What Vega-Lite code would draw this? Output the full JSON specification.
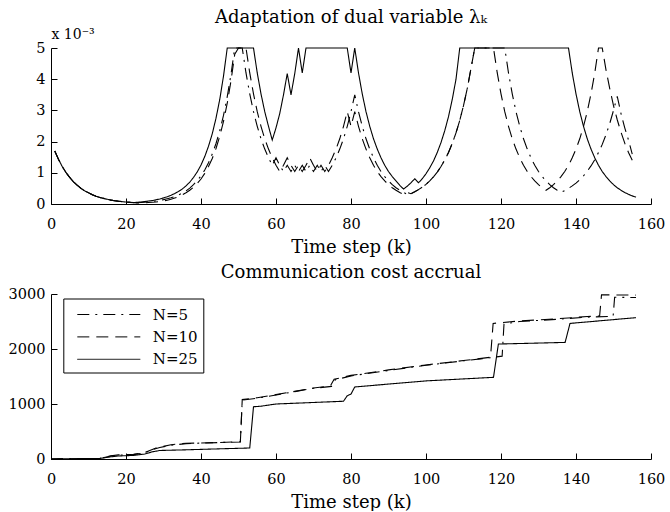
{
"$schema": "https://vega.github.io/schema/vega-lite/v6.json",
"autosize": {"type": "pad"},
"padding": {"left": 8, "top": 8, "right": 5, "bottom": 0},
"config": {
  "view": {"stroke": null},
  "font": "DejaVu Serif",
  "axis": {"grid": false, "domainColor": "black", "domainWidth": 1, "tickColor": "black", "tickWidth": 1, "tickSize": -6, "labelFont": "DejaVu Serif", "labelFontSize": 14.5, "labelColor": "black", "labelFlush": false, "labelOverlap": false, "titleFont": "DejaVu Serif", "titleFontSize": 18, "titleFontWeight": "normal", "titleColor": "black"},
  "title": {"font": "DejaVu Serif", "fontSize": 18, "fontWeight": "normal", "color": "black", "anchor": "middle", "frame": "group", "baseline": "alphabetic"},
  "legend": {"labelFont": "DejaVu Serif"}
},
"datasets": {
"lam": [
{"k":1,"v":1.70,"s":"N=25"},{"k":2,"v":1.43,"s":"N=25"},{"k":3,"v":1.20,"s":"N=25"},{"k":4,"v":1.01,"s":"N=25"},{"k":5,"v":0.85,"s":"N=25"},{"k":6,"v":0.71,"s":"N=25"},{"k":7,"v":0.60,"s":"N=25"},{"k":8,"v":0.50,"s":"N=25"},{"k":9,"v":0.42,"s":"N=25"},{"k":10,"v":0.36,"s":"N=25"},{"k":11,"v":0.30,"s":"N=25"},{"k":12,"v":0.25,"s":"N=25"},{"k":13,"v":0.21,"s":"N=25"},{"k":14,"v":0.18,"s":"N=25"},{"k":15,"v":0.15,"s":"N=25"},{"k":16,"v":0.125,"s":"N=25"},{"k":17,"v":0.105,"s":"N=25"},{"k":18,"v":0.09,"s":"N=25"},{"k":19,"v":0.075,"s":"N=25"},{"k":20,"v":0.063,"s":"N=25"},{"k":21,"v":0.053,"s":"N=25"},{"k":22,"v":0.045,"s":"N=25"},{"k":23,"v":0.054,"s":"N=25"},{"k":24,"v":0.065,"s":"N=25"},{"k":25,"v":0.078,"s":"N=25"},{"k":26,"v":0.094,"s":"N=25"},{"k":27,"v":0.11,"s":"N=25"},{"k":28,"v":0.135,"s":"N=25"},{"k":29,"v":0.16,"s":"N=25"},{"k":30,"v":0.195,"s":"N=25"},{"k":31,"v":0.23,"s":"N=25"},{"k":32,"v":0.28,"s":"N=25"},{"k":33,"v":0.335,"s":"N=25"},{"k":34,"v":0.40,"s":"N=25"},{"k":35,"v":0.48,"s":"N=25"},{"k":36,"v":0.58,"s":"N=25"},{"k":37,"v":0.70,"s":"N=25"},{"k":38,"v":0.85,"s":"N=25"},{"k":39,"v":1.03,"s":"N=25"},{"k":40,"v":1.25,"s":"N=25"},{"k":41,"v":1.52,"s":"N=25"},{"k":42,"v":1.85,"s":"N=25"},{"k":43,"v":2.25,"s":"N=25"},{"k":44,"v":2.75,"s":"N=25"},{"k":45,"v":3.35,"s":"N=25"},{"k":46,"v":4.1,"s":"N=25"},{"k":47,"v":5.0,"s":"N=25"},{"k":54,"v":5.0,"s":"N=25"},{"k":55,"v":4.2,"s":"N=25"},{"k":56,"v":3.53,"s":"N=25"},{"k":57,"v":2.96,"s":"N=25"},{"k":58,"v":2.49,"s":"N=25"},{"k":59,"v":2.05,"s":"N=25"},{"k":60,"v":2.44,"s":"N=25"},{"k":61,"v":2.9,"s":"N=25"},{"k":62,"v":3.5,"s":"N=25"},{"k":63,"v":4.18,"s":"N=25"},{"k":64,"v":3.5,"s":"N=25"},{"k":65,"v":4.18,"s":"N=25"},{"k":66,"v":5.0,"s":"N=25"},{"k":67,"v":4.2,"s":"N=25"},{"k":68,"v":5.0,"s":"N=25"},{"k":79,"v":5.0,"s":"N=25"},{"k":80,"v":4.2,"s":"N=25"},{"k":81,"v":5.0,"s":"N=25"},{"k":82,"v":4.2,"s":"N=25"},{"k":83,"v":3.53,"s":"N=25"},{"k":84,"v":2.96,"s":"N=25"},{"k":85,"v":2.49,"s":"N=25"},{"k":86,"v":2.09,"s":"N=25"},{"k":87,"v":1.76,"s":"N=25"},{"k":88,"v":1.48,"s":"N=25"},{"k":89,"v":1.24,"s":"N=25"},{"k":90,"v":1.04,"s":"N=25"},{"k":91,"v":0.88,"s":"N=25"},{"k":92,"v":0.74,"s":"N=25"},{"k":93,"v":0.6,"s":"N=25"},{"k":94,"v":0.48,"s":"N=25"},{"k":95,"v":0.57,"s":"N=25"},{"k":96,"v":0.68,"s":"N=25"},{"k":97,"v":0.81,"s":"N=25"},{"k":98,"v":0.68,"s":"N=25"},{"k":99,"v":0.81,"s":"N=25"},{"k":100,"v":0.97,"s":"N=25"},{"k":101,"v":1.16,"s":"N=25"},{"k":102,"v":1.38,"s":"N=25"},{"k":103,"v":1.65,"s":"N=25"},{"k":104,"v":1.97,"s":"N=25"},{"k":105,"v":2.35,"s":"N=25"},{"k":106,"v":2.8,"s":"N=25"},{"k":107,"v":3.35,"s":"N=25"},{"k":108,"v":4.0,"s":"N=25"},{"k":109,"v":5.0,"s":"N=25"},{"k":138,"v":5.0,"s":"N=25"},{"k":139,"v":4.2,"s":"N=25"},{"k":140,"v":3.53,"s":"N=25"},{"k":141,"v":2.96,"s":"N=25"},{"k":142,"v":2.49,"s":"N=25"},{"k":143,"v":2.09,"s":"N=25"},{"k":144,"v":1.76,"s":"N=25"},{"k":145,"v":1.48,"s":"N=25"},{"k":146,"v":1.24,"s":"N=25"},{"k":147,"v":1.04,"s":"N=25"},{"k":148,"v":0.88,"s":"N=25"},{"k":149,"v":0.74,"s":"N=25"},{"k":150,"v":0.62,"s":"N=25"},{"k":151,"v":0.52,"s":"N=25"},{"k":152,"v":0.44,"s":"N=25"},{"k":153,"v":0.37,"s":"N=25"},{"k":154,"v":0.31,"s":"N=25"},{"k":155,"v":0.26,"s":"N=25"},{"k":156,"v":0.22,"s":"N=25"},
{"k":1,"v":1.70,"s":"N=10"},{"k":2,"v":1.43,"s":"N=10"},{"k":3,"v":1.20,"s":"N=10"},{"k":4,"v":1.01,"s":"N=10"},{"k":5,"v":0.85,"s":"N=10"},{"k":6,"v":0.71,"s":"N=10"},{"k":7,"v":0.60,"s":"N=10"},{"k":8,"v":0.50,"s":"N=10"},{"k":9,"v":0.42,"s":"N=10"},{"k":10,"v":0.36,"s":"N=10"},{"k":11,"v":0.30,"s":"N=10"},{"k":12,"v":0.25,"s":"N=10"},{"k":13,"v":0.21,"s":"N=10"},{"k":14,"v":0.18,"s":"N=10"},{"k":15,"v":0.15,"s":"N=10"},{"k":16,"v":0.125,"s":"N=10"},{"k":17,"v":0.105,"s":"N=10"},{"k":18,"v":0.088,"s":"N=10"},{"k":19,"v":0.074,"s":"N=10"},{"k":20,"v":0.062,"s":"N=10"},{"k":21,"v":0.052,"s":"N=10"},{"k":22,"v":0.044,"s":"N=10"},{"k":23,"v":0.037,"s":"N=10"},{"k":24,"v":0.032,"s":"N=10"},{"k":25,"v":0.038,"s":"N=10"},{"k":26,"v":0.046,"s":"N=10"},{"k":27,"v":0.055,"s":"N=10"},{"k":28,"v":0.066,"s":"N=10"},{"k":29,"v":0.08,"s":"N=10"},{"k":30,"v":0.1,"s":"N=10"},{"k":31,"v":0.12,"s":"N=10"},{"k":32,"v":0.15,"s":"N=10"},{"k":33,"v":0.19,"s":"N=10"},{"k":34,"v":0.23,"s":"N=10"},{"k":35,"v":0.29,"s":"N=10"},{"k":36,"v":0.36,"s":"N=10"},{"k":37,"v":0.44,"s":"N=10"},{"k":38,"v":0.54,"s":"N=10"},{"k":39,"v":0.66,"s":"N=10"},{"k":40,"v":0.8,"s":"N=10"},{"k":41,"v":0.98,"s":"N=10"},{"k":42,"v":1.2,"s":"N=10"},{"k":43,"v":1.46,"s":"N=10"},{"k":44,"v":1.78,"s":"N=10"},{"k":45,"v":2.17,"s":"N=10"},{"k":46,"v":2.65,"s":"N=10"},{"k":47,"v":3.23,"s":"N=10"},{"k":48,"v":3.95,"s":"N=10"},{"k":49,"v":4.8,"s":"N=10"},{"k":50,"v":5.0,"s":"N=10"},{"k":52,"v":5.0,"s":"N=10"},{"k":53,"v":4.2,"s":"N=10"},{"k":54,"v":3.53,"s":"N=10"},{"k":55,"v":2.96,"s":"N=10"},{"k":56,"v":2.49,"s":"N=10"},{"k":57,"v":2.09,"s":"N=10"},{"k":58,"v":1.76,"s":"N=10"},{"k":59,"v":1.48,"s":"N=10"},{"k":60,"v":1.24,"s":"N=10"},{"k":61,"v":1.04,"s":"N=10"},{"k":62,"v":1.24,"s":"N=10"},{"k":63,"v":1.48,"s":"N=10"},{"k":64,"v":1.24,"s":"N=10"},{"k":65,"v":1.04,"s":"N=10"},{"k":66,"v":1.24,"s":"N=10"},{"k":67,"v":1.04,"s":"N=10"},{"k":68,"v":1.24,"s":"N=10"},{"k":69,"v":1.48,"s":"N=10"},{"k":70,"v":1.24,"s":"N=10"},{"k":71,"v":1.04,"s":"N=10"},{"k":72,"v":1.24,"s":"N=10"},{"k":73,"v":1.04,"s":"N=10"},{"k":74,"v":1.24,"s":"N=10"},{"k":75,"v":1.48,"s":"N=10"},{"k":76,"v":1.76,"s":"N=10"},{"k":77,"v":2.09,"s":"N=10"},{"k":78,"v":2.49,"s":"N=10"},{"k":79,"v":2.96,"s":"N=10"},{"k":80,"v":2.49,"s":"N=10"},{"k":81,"v":2.96,"s":"N=10"},{"k":82,"v":2.49,"s":"N=10"},{"k":83,"v":2.09,"s":"N=10"},{"k":84,"v":1.76,"s":"N=10"},{"k":85,"v":1.48,"s":"N=10"},{"k":86,"v":1.24,"s":"N=10"},{"k":87,"v":1.04,"s":"N=10"},{"k":88,"v":0.88,"s":"N=10"},{"k":89,"v":0.74,"s":"N=10"},{"k":90,"v":0.62,"s":"N=10"},{"k":91,"v":0.52,"s":"N=10"},{"k":92,"v":0.44,"s":"N=10"},{"k":93,"v":0.37,"s":"N=10"},{"k":94,"v":0.31,"s":"N=10"},{"k":95,"v":0.37,"s":"N=10"},{"k":96,"v":0.33,"s":"N=10"},{"k":97,"v":0.39,"s":"N=10"},{"k":98,"v":0.46,"s":"N=10"},{"k":99,"v":0.54,"s":"N=10"},{"k":100,"v":0.63,"s":"N=10"},{"k":101,"v":0.74,"s":"N=10"},{"k":102,"v":0.87,"s":"N=10"},{"k":103,"v":1.02,"s":"N=10"},{"k":104,"v":1.2,"s":"N=10"},{"k":105,"v":1.41,"s":"N=10"},{"k":106,"v":1.65,"s":"N=10"},{"k":107,"v":1.94,"s":"N=10"},{"k":108,"v":2.28,"s":"N=10"},{"k":109,"v":2.68,"s":"N=10"},{"k":110,"v":3.15,"s":"N=10"},{"k":111,"v":3.7,"s":"N=10"},{"k":112,"v":4.35,"s":"N=10"},{"k":113,"v":5.0,"s":"N=10"},{"k":118,"v":5.0,"s":"N=10"},{"k":119,"v":4.2,"s":"N=10"},{"k":120,"v":3.53,"s":"N=10"},{"k":121,"v":2.96,"s":"N=10"},{"k":122,"v":2.49,"s":"N=10"},{"k":123,"v":2.09,"s":"N=10"},{"k":124,"v":1.76,"s":"N=10"},{"k":125,"v":1.48,"s":"N=10"},{"k":126,"v":1.24,"s":"N=10"},{"k":127,"v":1.04,"s":"N=10"},{"k":128,"v":0.88,"s":"N=10"},{"k":129,"v":0.74,"s":"N=10"},{"k":130,"v":0.62,"s":"N=10"},{"k":131,"v":0.52,"s":"N=10"},{"k":132,"v":0.44,"s":"N=10"},{"k":133,"v":0.52,"s":"N=10"},{"k":134,"v":0.62,"s":"N=10"},{"k":135,"v":0.74,"s":"N=10"},{"k":136,"v":0.88,"s":"N=10"},{"k":137,"v":1.04,"s":"N=10"},{"k":138,"v":1.24,"s":"N=10"},{"k":139,"v":1.48,"s":"N=10"},{"k":140,"v":1.76,"s":"N=10"},{"k":141,"v":2.09,"s":"N=10"},{"k":142,"v":2.49,"s":"N=10"},{"k":143,"v":2.96,"s":"N=10"},{"k":144,"v":3.53,"s":"N=10"},{"k":145,"v":4.2,"s":"N=10"},{"k":146,"v":5.0,"s":"N=10"},{"k":147,"v":5.0,"s":"N=10"},{"k":148,"v":4.3,"s":"N=10"},{"k":149,"v":3.7,"s":"N=10"},{"k":150,"v":3.15,"s":"N=10"},{"k":151,"v":2.7,"s":"N=10"},{"k":152,"v":2.3,"s":"N=10"},{"k":153,"v":1.95,"s":"N=10"},{"k":154,"v":1.65,"s":"N=10"},{"k":155,"v":1.4,"s":"N=10"},
{"k":1,"v":1.70,"s":"N=5"},{"k":2,"v":1.43,"s":"N=5"},{"k":3,"v":1.20,"s":"N=5"},{"k":4,"v":1.01,"s":"N=5"},{"k":5,"v":0.85,"s":"N=5"},{"k":6,"v":0.71,"s":"N=5"},{"k":7,"v":0.60,"s":"N=5"},{"k":8,"v":0.50,"s":"N=5"},{"k":9,"v":0.42,"s":"N=5"},{"k":10,"v":0.36,"s":"N=5"},{"k":11,"v":0.30,"s":"N=5"},{"k":12,"v":0.25,"s":"N=5"},{"k":13,"v":0.21,"s":"N=5"},{"k":14,"v":0.18,"s":"N=5"},{"k":15,"v":0.15,"s":"N=5"},{"k":16,"v":0.125,"s":"N=5"},{"k":17,"v":0.105,"s":"N=5"},{"k":18,"v":0.09,"s":"N=5"},{"k":19,"v":0.075,"s":"N=5"},{"k":20,"v":0.063,"s":"N=5"},{"k":21,"v":0.053,"s":"N=5"},{"k":22,"v":0.045,"s":"N=5"},{"k":23,"v":0.04,"s":"N=5"},{"k":24,"v":0.047,"s":"N=5"},{"k":25,"v":0.056,"s":"N=5"},{"k":26,"v":0.067,"s":"N=5"},{"k":27,"v":0.08,"s":"N=5"},{"k":28,"v":0.095,"s":"N=5"},{"k":29,"v":0.115,"s":"N=5"},{"k":30,"v":0.14,"s":"N=5"},{"k":31,"v":0.17,"s":"N=5"},{"k":32,"v":0.2,"s":"N=5"},{"k":33,"v":0.24,"s":"N=5"},{"k":34,"v":0.29,"s":"N=5"},{"k":35,"v":0.35,"s":"N=5"},{"k":36,"v":0.42,"s":"N=5"},{"k":37,"v":0.51,"s":"N=5"},{"k":38,"v":0.62,"s":"N=5"},{"k":39,"v":0.75,"s":"N=5"},{"k":40,"v":0.9,"s":"N=5"},{"k":41,"v":1.09,"s":"N=5"},{"k":42,"v":1.32,"s":"N=5"},{"k":43,"v":1.6,"s":"N=5"},{"k":44,"v":1.94,"s":"N=5"},{"k":45,"v":2.35,"s":"N=5"},{"k":46,"v":2.84,"s":"N=5"},{"k":47,"v":3.44,"s":"N=5"},{"k":48,"v":4.16,"s":"N=5"},{"k":49,"v":5.0,"s":"N=5"},{"k":51,"v":5.0,"s":"N=5"},{"k":52,"v":4.2,"s":"N=5"},{"k":53,"v":3.53,"s":"N=5"},{"k":54,"v":2.96,"s":"N=5"},{"k":55,"v":2.49,"s":"N=5"},{"k":56,"v":2.09,"s":"N=5"},{"k":57,"v":1.76,"s":"N=5"},{"k":58,"v":1.48,"s":"N=5"},{"k":59,"v":1.24,"s":"N=5"},{"k":60,"v":1.48,"s":"N=5"},{"k":61,"v":1.24,"s":"N=5"},{"k":62,"v":1.04,"s":"N=5"},{"k":63,"v":1.24,"s":"N=5"},{"k":64,"v":1.04,"s":"N=5"},{"k":65,"v":1.24,"s":"N=5"},{"k":66,"v":1.04,"s":"N=5"},{"k":67,"v":1.24,"s":"N=5"},{"k":68,"v":1.04,"s":"N=5"},{"k":69,"v":1.24,"s":"N=5"},{"k":70,"v":1.04,"s":"N=5"},{"k":71,"v":1.24,"s":"N=5"},{"k":72,"v":1.04,"s":"N=5"},{"k":73,"v":1.24,"s":"N=5"},{"k":74,"v":1.04,"s":"N=5"},{"k":75,"v":1.24,"s":"N=5"},{"k":76,"v":1.48,"s":"N=5"},{"k":77,"v":1.76,"s":"N=5"},{"k":78,"v":2.09,"s":"N=5"},{"k":79,"v":2.49,"s":"N=5"},{"k":80,"v":2.96,"s":"N=5"},{"k":81,"v":3.5,"s":"N=5"},{"k":82,"v":2.96,"s":"N=5"},{"k":83,"v":2.49,"s":"N=5"},{"k":84,"v":2.09,"s":"N=5"},{"k":85,"v":1.76,"s":"N=5"},{"k":86,"v":1.48,"s":"N=5"},{"k":87,"v":1.24,"s":"N=5"},{"k":88,"v":1.04,"s":"N=5"},{"k":89,"v":0.88,"s":"N=5"},{"k":90,"v":0.74,"s":"N=5"},{"k":91,"v":0.62,"s":"N=5"},{"k":92,"v":0.52,"s":"N=5"},{"k":93,"v":0.44,"s":"N=5"},{"k":94,"v":0.37,"s":"N=5"},{"k":95,"v":0.31,"s":"N=5"},{"k":96,"v":0.33,"s":"N=5"},{"k":97,"v":0.39,"s":"N=5"},{"k":98,"v":0.46,"s":"N=5"},{"k":99,"v":0.54,"s":"N=5"},{"k":100,"v":0.63,"s":"N=5"},{"k":101,"v":0.74,"s":"N=5"},{"k":102,"v":0.87,"s":"N=5"},{"k":103,"v":1.02,"s":"N=5"},{"k":104,"v":1.2,"s":"N=5"},{"k":105,"v":1.41,"s":"N=5"},{"k":106,"v":1.65,"s":"N=5"},{"k":107,"v":1.94,"s":"N=5"},{"k":108,"v":2.28,"s":"N=5"},{"k":109,"v":2.68,"s":"N=5"},{"k":110,"v":3.15,"s":"N=5"},{"k":111,"v":3.7,"s":"N=5"},{"k":112,"v":4.35,"s":"N=5"},{"k":113,"v":5.0,"s":"N=5"},{"k":121,"v":5.0,"s":"N=5"},{"k":122,"v":4.2,"s":"N=5"},{"k":123,"v":3.53,"s":"N=5"},{"k":124,"v":2.96,"s":"N=5"},{"k":125,"v":2.49,"s":"N=5"},{"k":126,"v":2.09,"s":"N=5"},{"k":127,"v":1.76,"s":"N=5"},{"k":128,"v":1.48,"s":"N=5"},{"k":129,"v":1.24,"s":"N=5"},{"k":130,"v":1.04,"s":"N=5"},{"k":131,"v":0.88,"s":"N=5"},{"k":132,"v":0.74,"s":"N=5"},{"k":133,"v":0.62,"s":"N=5"},{"k":134,"v":0.52,"s":"N=5"},{"k":135,"v":0.44,"s":"N=5"},{"k":136,"v":0.37,"s":"N=5"},{"k":137,"v":0.43,"s":"N=5"},{"k":138,"v":0.5,"s":"N=5"},{"k":139,"v":0.58,"s":"N=5"},{"k":140,"v":0.67,"s":"N=5"},{"k":141,"v":0.78,"s":"N=5"},{"k":142,"v":0.9,"s":"N=5"},{"k":143,"v":1.05,"s":"N=5"},{"k":144,"v":1.22,"s":"N=5"},{"k":145,"v":1.42,"s":"N=5"},{"k":146,"v":1.65,"s":"N=5"},{"k":147,"v":1.91,"s":"N=5"},{"k":148,"v":2.22,"s":"N=5"},{"k":149,"v":2.58,"s":"N=5"},{"k":150,"v":3.0,"s":"N=5"},{"k":151,"v":3.45,"s":"N=5"},{"k":152,"v":2.9,"s":"N=5"},{"k":153,"v":2.44,"s":"N=5"},{"k":154,"v":2.05,"s":"N=5"},{"k":155,"v":1.6,"s":"N=5"}
],
"cost": [
{"k":0,"v":0,"s":"N=25"},{"k":13,"v":10,"s":"N=25"},{"k":16,"v":40,"s":"N=25"},{"k":18,"v":55,"s":"N=25"},{"k":22,"v":65,"s":"N=25"},{"k":25,"v":90,"s":"N=25"},{"k":27,"v":130,"s":"N=25"},{"k":29,"v":155,"s":"N=25"},{"k":35,"v":165,"s":"N=25"},{"k":45,"v":185,"s":"N=25"},{"k":53,"v":200,"s":"N=25"},{"k":54,"v":950,"s":"N=25"},{"k":56,"v":960,"s":"N=25"},{"k":60,"v":1000,"s":"N=25"},{"k":78,"v":1050,"s":"N=25"},{"k":79,"v":1150,"s":"N=25"},{"k":80,"v":1180,"s":"N=25"},{"k":81,"v":1310,"s":"N=25"},{"k":100,"v":1420,"s":"N=25"},{"k":118,"v":1485,"s":"N=25"},{"k":119.3,"v":2090,"s":"N=25"},{"k":137.1,"v":2120,"s":"N=25"},{"k":138.4,"v":2465,"s":"N=25"},{"k":156,"v":2570,"s":"N=25"},
{"k":0,"v":0,"s":"N=10"},{"k":13,"v":10,"s":"N=10"},{"k":16,"v":60,"s":"N=10"},{"k":18,"v":75,"s":"N=10"},{"k":22,"v":85,"s":"N=10"},{"k":25,"v":120,"s":"N=10"},{"k":28,"v":200,"s":"N=10"},{"k":32,"v":260,"s":"N=10"},{"k":36,"v":285,"s":"N=10"},{"k":45,"v":300,"s":"N=10"},{"k":50.5,"v":315,"s":"N=10"},{"k":51,"v":1080,"s":"N=10"},{"k":55,"v":1115,"s":"N=10"},{"k":60,"v":1170,"s":"N=10"},{"k":65,"v":1230,"s":"N=10"},{"k":70,"v":1290,"s":"N=10"},{"k":74.5,"v":1330,"s":"N=10"},{"k":75.5,"v":1450,"s":"N=10"},{"k":80,"v":1520,"s":"N=10"},{"k":90,"v":1620,"s":"N=10"},{"k":100,"v":1710,"s":"N=10"},{"k":110,"v":1790,"s":"N=10"},{"k":117.2,"v":1850,"s":"N=10"},{"k":117.9,"v":2465,"s":"N=10"},{"k":125,"v":2510,"s":"N=10"},{"k":135,"v":2550,"s":"N=10"},{"k":143,"v":2590,"s":"N=10"},{"k":146.3,"v":2600,"s":"N=10"},{"k":146.8,"v":2985,"s":"N=10"},{"k":156,"v":2980,"s":"N=10"},
{"k":0,"v":0,"s":"N=5"},{"k":13,"v":10,"s":"N=5"},{"k":16,"v":55,"s":"N=5"},{"k":18,"v":70,"s":"N=5"},{"k":22,"v":80,"s":"N=5"},{"k":25,"v":110,"s":"N=5"},{"k":27,"v":170,"s":"N=5"},{"k":29,"v":210,"s":"N=5"},{"k":32,"v":250,"s":"N=5"},{"k":36,"v":280,"s":"N=5"},{"k":45,"v":300,"s":"N=5"},{"k":50.5,"v":310,"s":"N=5"},{"k":51,"v":1070,"s":"N=5"},{"k":55,"v":1105,"s":"N=5"},{"k":60,"v":1165,"s":"N=5"},{"k":65,"v":1225,"s":"N=5"},{"k":70,"v":1285,"s":"N=5"},{"k":74.8,"v":1320,"s":"N=5"},{"k":75.8,"v":1440,"s":"N=5"},{"k":80,"v":1510,"s":"N=5"},{"k":90,"v":1610,"s":"N=5"},{"k":100,"v":1705,"s":"N=5"},{"k":110,"v":1785,"s":"N=5"},{"k":117,"v":1840,"s":"N=5"},{"k":120.3,"v":1870,"s":"N=5"},{"k":120.8,"v":2455,"s":"N=5"},{"k":125,"v":2500,"s":"N=5"},{"k":135,"v":2540,"s":"N=5"},{"k":143,"v":2580,"s":"N=5"},{"k":149.9,"v":2595,"s":"N=5"},{"k":150.3,"v":2940,"s":"N=5"},{"k":156,"v":2935,"s":"N=5"}
]
},
"spacing": 8,
"resolve": {"scale": {"x": "independent", "y": "independent", "strokeDash": "independent"}, "legend": {"strokeDash": "independent"}},
"vconcat": [
{
  "width": 600, "height": 156,
  "title": {"text": "Adaptation of dual variable λₖ", "offset": 0.5},
  "data": {"name": "lam"},
  "mark": {"type": "line", "color": "black", "strokeWidth": 1.1},
  "encoding": {
    "x": {"field": "k", "type": "quantitative", "scale": {"domain": [0, 160], "nice": false},
      "axis": {"values": [0, 20, 40, 60, 80, 100, 120, 140, 160], "labelPadding": 19, "title": "Time step (k)", "titleY": 48, "titleBaseline": "alphabetic"}},
    "y": {"field": "v", "type": "quantitative", "scale": {"domain": [0, 5], "nice": false},
      "axis": {"values": [0, 1, 2, 3, 4, 5], "labelPadding": 12, "title": "x 10⁻³", "titleFontSize": 14, "titleAngle": 0, "titleX": 0, "titleY": -10, "titleAlign": "left", "titleBaseline": "alphabetic"}},
    "strokeDash": {"field": "s", "type": "nominal", "scale": {"domain": ["N=5", "N=10", "N=25"], "range": [[12, 6, 2, 6], [12, 7], [1, 0]]}, "legend": null}
  }
},
{
  "width": 600, "height": 165,
  "title": {"text": "Communication cost accrual", "offset": 4},
  "data": {"name": "cost"},
  "mark": {"type": "line", "color": "black", "strokeWidth": 1.1},
  "encoding": {
    "x": {"field": "k", "type": "quantitative", "scale": {"domain": [0, 160], "nice": false},
      "axis": {"values": [0, 20, 40, 60, 80, 100, 120, 140, 160], "labelPadding": 19, "title": "Time step (k)", "titleY": 48, "titleBaseline": "alphabetic"}},
    "y": {"field": "v", "type": "quantitative", "scale": {"domain": [0, 3000], "nice": false},
      "axis": {"values": [0, 1000, 2000, 3000], "format": "d", "labelPadding": 12, "title": null}},
    "strokeDash": {"field": "s", "type": "nominal", "scale": {"domain": ["N=5", "N=10", "N=25"], "range": [[12, 6, 2, 6], [12, 7], [1, 0]]},
      "legend": {"orient": "none", "legendX": 12.3, "legendY": 4.5, "title": null, "strokeColor": "black", "fillColor": "white", "padding": 5, "symbolType": "M-3,0H3", "symbolSize": 441, "symbolOffset": 29.5, "symbolStrokeColor": "black", "symbolStrokeWidth": 1, "labelFontSize": 15, "labelColor": "black", "labelOffset": 33, "rowPadding": 3.4, "cornerRadius": 0}}
  }
}
]
}
